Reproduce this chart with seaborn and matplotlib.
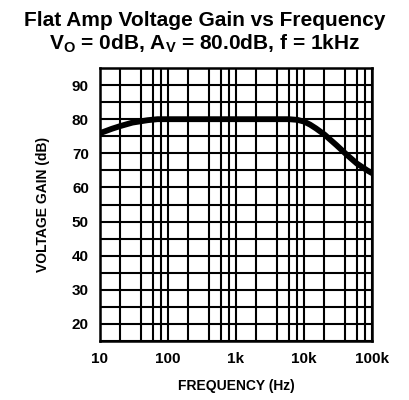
import matplotlib
matplotlib.use("Agg")
import matplotlib.pyplot as plt
import seaborn as sns
import numpy as np
import pandas as pd
from matplotlib.ticker import FixedLocator, NullFormatter

freq = [10, 15, 20, 30, 50, 70, 100, 300, 1000, 3000, 6000, 8000, 10000, 12300, 15000, 20000, 24000, 30000, 43000, 60000, 85000, 100000]
gain = [75.9, 77.2, 78.0, 79.0, 79.7, 80.0, 80.0, 80.0, 80.0, 80.0, 80.0, 79.8, 79.3, 78.4, 77.3, 75.5, 74.1, 72.4, 69.5, 67.0, 65.0, 64.2]
xtick_vals = [10, 100, 1000, 10000, 100000]
xtick_labels = ["10", "100", "1k", "10k", "100k"]
ytick_vals = [20, 30, 40, 50, 60, 70, 80, 90]

df = pd.DataFrame({"freq": freq, "gain": gain})

sns.set_theme(style="white")
plt.rcParams['font.family'] = ['Liberation Sans', 'DejaVu Sans']
plt.rcParams['mathtext.default'] = 'bf'
for k in ['text.color', 'axes.labelcolor', 'xtick.color', 'ytick.color']:
    plt.rcParams[k] = 'black'

fig = plt.figure(figsize=(4.09, 4.0), dpi=100)
ax = fig.add_axes([100/409, 1-341/400, 272/409, 273/400])

grid_x = []
for d in [10, 100, 1000, 10000]:
    for m in [1, 2, 4, 6, 8]:
        grid_x.append(d*m)
grid_x.append(100000)
for v in grid_x:
    ax.axvline(v, color="black", lw=1.5, zorder=1)
for v in np.arange(15, 96, 5):
    ax.axhline(v, color="black", lw=1.5, zorder=1)

sns.lineplot(data=df, x="freq", y="gain", ax=ax, color="black", lw=4.2, zorder=3)
ax.set_xscale("log")
ax.set_xlim(10, 100000)
ax.set_ylim(15, 95)
ax.xaxis.set_major_locator(FixedLocator(xtick_vals))
ax.xaxis.set_minor_formatter(NullFormatter())
ax.set_xticks(xtick_vals)
ax.set_xticklabels(xtick_labels)
ax.set_yticks(ytick_vals)
ax.tick_params(axis="both", which="both", length=0, pad=8, colors="black")
narrow = ['Liberation Sans Narrow', 'Liberation Sans', 'DejaVu Sans']
for lab in ax.get_xticklabels() + ax.get_yticklabels():
    lab.set_fontfamily(narrow)
    lab.set_fontweight("bold")
    lab.set_fontsize(11)
    lab.set_color("black")
for s in ax.spines.values():
    s.set_color("black")
    s.set_linewidth(1.8)
ax.set_xlabel("FREQUENCY (Hz)", fontfamily=narrow, fontweight="bold", fontsize=10, labelpad=9, color="black")
ax.set_ylabel("VOLTAGE GAIN (dB)", fontfamily=narrow, fontweight="bold", fontsize=10, labelpad=16, color="black")

fig.text(0.5, 1-21/400, "Flat Amp Voltage Gain vs Frequency", ha="center", va="center",
         fontsize=15, fontweight="bold", color="black")
fig.text(0.5, 1-44/400, r"V$_\mathregular{O}$ = 0dB, A$_\mathregular{V}$ = 80.0dB, f = 1kHz",
         ha="center", va="center", fontsize=15, fontweight="bold", color="black")

fig.savefig("out.png", dpi=100)
